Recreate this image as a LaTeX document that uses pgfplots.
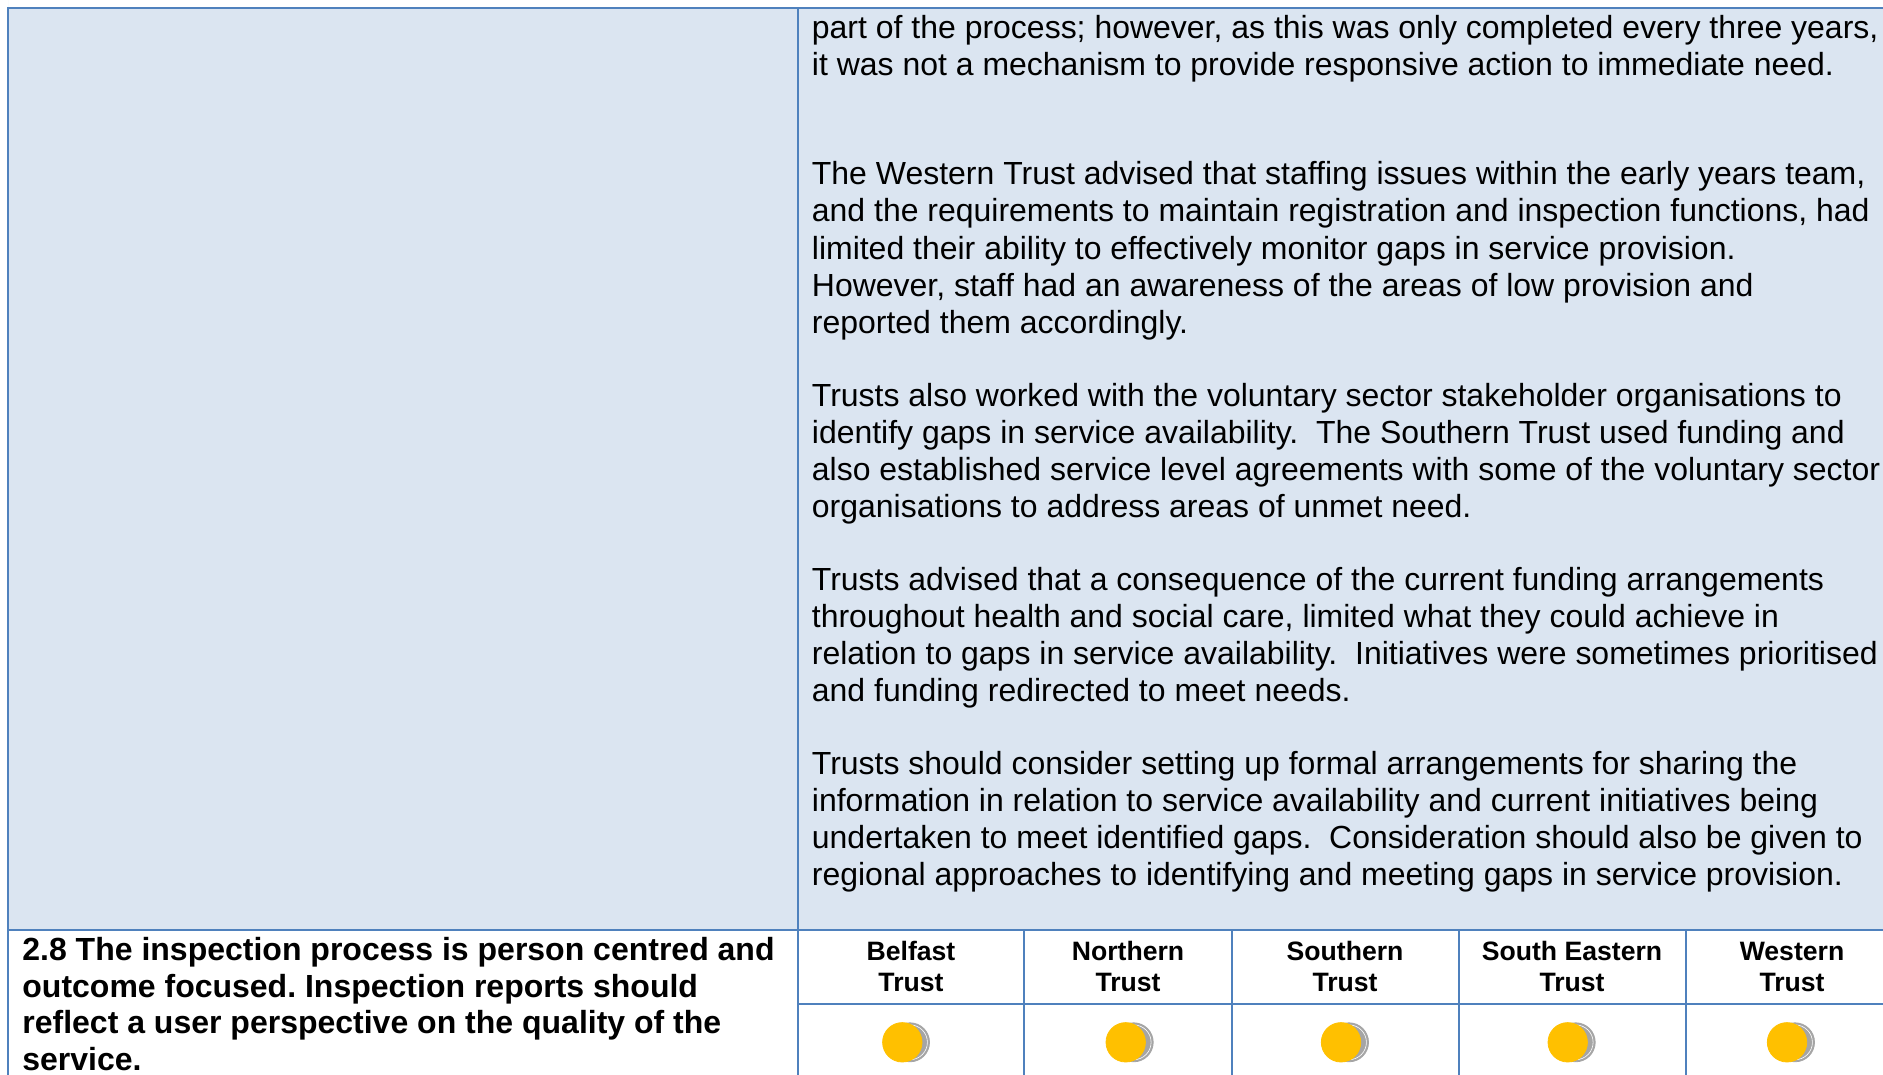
\documentclass[border=0pt]{standalone}
\usepackage{fontspec}
\setmainfont{Liberation Sans}
\usepackage{pgfplots}
\pgfplotsset{compat=1.18}
\definecolor{rulec}{HTML}{4F81BD}
\definecolor{cellc}{HTML}{DBE5F1}
\definecolor{gold}{HTML}{FFC000}
\definecolor{moon}{HTML}{A5A5A5}
\newcommand{\BodyT}[2]{\node[anchor=base west,inner sep=0pt,font=\fontsize{15.99pt}{18pt}\selectfont\frenchspacing] at (axis cs:811.5,#1) {#2};}
\newcommand{\LeftT}[2]{\node[anchor=base west,inner sep=0pt,font=\fontsize{16.0pt}{18pt}\selectfont\bfseries\frenchspacing] at (axis cs:22,#1) {#2};}
\newcommand{\HeadT}[3]{\node[anchor=base,inner sep=0pt,font=\fontsize{13.3pt}{16pt}\selectfont\bfseries] at (axis cs:#1,#2) {#3};}
\begin{document}
\begin{tikzpicture}
\useasboundingbox (0,0) rectangle (941.5pt,537.5pt);
\begin{axis}[at={(0,0)},anchor=south west,scale only axis,width=941.5pt,height=537.5pt,
  xmin=0,xmax=1883,ymin=0,ymax=1075,y dir=reverse,hide axis,clip=false]
% shaded cell
\addplot[draw=none,fill=cellc] coordinates {(8,8) (1883,8) (1883,930) (8,930)} \closedcycle;
% rules
\addplot[rulec,line width=0.9pt] coordinates {(1883,8) (8,8) (8,1075)};
\addplot[rulec,line width=0.9pt] coordinates {(798,8) (798,1075)};
\addplot[rulec,line width=0.9pt] coordinates {(8,930) (1883,930)};
\addplot[rulec,line width=0.9pt] coordinates {(798,1004) (1883,1004)};
\addplot[rulec,line width=0.9pt] coordinates {(1024,930) (1024,1075)};
\addplot[rulec,line width=0.9pt] coordinates {(1232,930) (1232,1075)};
\addplot[rulec,line width=0.9pt] coordinates {(1459,930) (1459,1075)};
\addplot[rulec,line width=0.9pt] coordinates {(1686,930) (1686,1075)};
% rating markers
\addplot[moon,only marks,mark=*,mark size=9.75pt] coordinates
 {(910,1042.3) (1133.7,1042.3) (1349,1042.3) (1575.7,1042.3) (1795,1042.3)};
\addplot[white,only marks,mark=o,mark size=8.7pt,mark options={line width=0.3pt}] coordinates
 {(910,1042.3) (1133.7,1042.3) (1349,1042.3) (1575.7,1042.3) (1795,1042.3)};
\addplot[gold,only marks,mark=*,mark size=9.85pt] coordinates
 {(902.3,1042.3) (1125.7,1042.3) (1341,1042.3) (1567.7,1042.3) (1787,1042.3)};
% body text
\BodyT{39}{part of the process; however, as this was only completed every three years,}
\BodyT{76}{it was not a mechanism to provide responsive action to immediate need.}
\BodyT{185}{The Western Trust advised that staffing issues within the early years team,}
\BodyT{222}{and the requirements to maintain registration and inspection functions, had}
\BodyT{259}{limited their ability to effectively monitor gaps in service provision.}
\BodyT{296}{However, staff had an awareness of the areas of low provision and}
\BodyT{333}{reported them accordingly.}
\BodyT{406}{Trusts also worked with the voluntary sector stakeholder organisations to}
\BodyT{443}{identify gaps in service availability.\ \ The Southern Trust used funding and}
\BodyT{480}{also established service level agreements with some of the voluntary sector}
\BodyT{517}{organisations to address areas of unmet need.}
\BodyT{590}{Trusts advised that a consequence of the current funding arrangements}
\BodyT{627}{throughout health and social care, limited what they could achieve in}
\BodyT{664}{relation to gaps in service availability.\ \ Initiatives were sometimes prioritised}
\BodyT{701}{and funding redirected to meet needs.}
\BodyT{774}{Trusts should consider setting up formal arrangements for sharing the}
\BodyT{811}{information in relation to service availability and current initiatives being}
\BodyT{848}{undertaken to meet identified gaps.\ \ Consideration should also be given to}
\BodyT{885}{regional approaches to identifying and meeting gaps in service provision.}
% left heading
\LeftT{960}{2.8 The inspection process is person centred and}
\LeftT{997}{outcome focused. Inspection reports should}
\LeftT{1033}{reflect a user perspective on the quality of the}
\LeftT{1070}{service.}
% column heads
\HeadT{911}{960}{Belfast}\HeadT{911}{991}{Trust}
\HeadT{1128}{960}{Northern}\HeadT{1128}{991}{Trust}
\HeadT{1345}{960}{Southern}\HeadT{1345}{991}{Trust}
\HeadT{1572}{960}{South Eastern}\HeadT{1572}{991}{Trust}
\HeadT{1792}{960}{Western}\HeadT{1792}{991}{Trust}
\end{axis}
\end{tikzpicture}
\end{document}
